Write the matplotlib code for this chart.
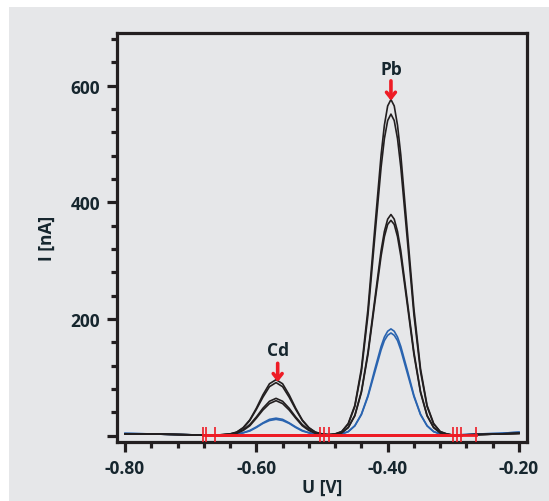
import matplotlib.pyplot as plt
from matplotlib.patches import Rectangle
from matplotlib.ticker import MultipleLocator

# potential grid [V] and currents [nA]
u = [-0.80, -0.76, -0.72, -0.68, -0.66, -0.64, -0.63, -0.62, -0.61, -0.60,
     -0.59, -0.58, -0.57, -0.56, -0.55, -0.54, -0.53, -0.52, -0.51, -0.50,
     -0.49, -0.48, -0.47, -0.46, -0.45, -0.44, -0.43, -0.42, -0.41, -0.405,
     -0.40, -0.395, -0.39, -0.385, -0.38, -0.37, -0.36, -0.35, -0.34, -0.33,
     -0.32, -0.31, -0.30, -0.26, -0.23, -0.20]

black_1 = [3, 3, 2, 1, 1, 3, 6, 14, 27, 47, 70, 89, 96, 89, 70, 47, 27, 14, 6, 3,
           2, 3, 7, 21, 52, 115, 217, 350, 481, 532, 565, 576, 565, 532, 481, 350,
           217, 115, 52, 21, 7, 3, 1, 2, 3, 4]
black_2 = [3, 3, 2, 1, 1, 3, 6, 13, 26, 45, 66, 84, 91, 84, 66, 45, 26, 13, 6, 3,
           2, 3, 7, 20, 50, 110, 207, 335, 460, 509, 540, 551, 540, 509, 460, 335,
           207, 110, 50, 20, 7, 3, 1, 2, 3, 4]
black_3 = [3, 3, 2, 1, 1, 2, 5, 10, 19, 32, 47, 59, 64, 59, 47, 32, 19, 10, 5, 2,
           1, 2, 5, 14, 35, 76, 143, 230, 317, 350, 371, 379, 371, 350, 317, 230,
           143, 76, 35, 14, 5, 2, 1, 2, 3, 4]
black_4 = [3, 3, 2, 1, 1, 2, 4, 9, 17, 30, 44, 55, 60, 55, 44, 30, 17, 9, 4, 2,
           1, 2, 5, 14, 34, 74, 139, 224, 308, 341, 362, 369, 362, 341, 308, 224,
           139, 74, 34, 14, 5, 2, 1, 2, 3, 4]
blue_1 = [4, 3, 2, 1, 1, 2, 3, 5, 9, 15, 22, 28, 30, 28, 22, 15, 9, 5, 3, 2,
          1, 2, 3, 7, 17, 37, 69, 112, 153, 169, 179, 183, 179, 169, 153, 112,
          69, 37, 17, 7, 3, 2, 1, 3, 4, 6]
blue_2 = [4, 3, 2, 1, 1, 2, 2, 5, 8, 14, 21, 26, 28, 26, 21, 14, 8, 5, 2, 2,
          1, 2, 3, 7, 17, 36, 67, 107, 147, 163, 172, 176, 172, 163, 147, 107,
          67, 36, 17, 7, 3, 2, 1, 3, 4, 6]

# red integration baselines (start, end) and their boundary markers
base_start = [-0.681, -0.677, -0.663, -0.503, -0.497, -0.490, -0.490]
base_end = [-0.497, -0.503, -0.490, -0.300, -0.289, -0.295, -0.266]
base_level = [1, 2, 1, 1, 2, 1, 1]
markers = [-0.681, -0.677, -0.663, -0.503, -0.497, -0.490,
           -0.300, -0.295, -0.289, -0.266]

peak_names = ['Cd', 'Pb']
peak_u = [-0.5675, -0.395]
peak_tip = [92, 574]
peak_tail = [124, 608]
peak_text = [146, 628]

gray = '#e6e7e9'
ink = '#231f20'
text_col = '#16262e'
red = '#ee1c25'
blue = '#2a64b0'

fig = plt.figure(figsize=(5.49, 5.02), dpi=100, facecolor='white')
fig.patches.append(Rectangle((9 / 549, 0), 1, 1 - 8 / 502, transform=fig.transFigure,
                             facecolor=gray, edgecolor='none', zorder=-5))
ax = fig.add_axes([117 / 549, 1 - 443 / 502, 410 / 549, 409 / 502])
ax.set_facecolor(gray)

for ys in [black_1, black_2, black_3, black_4]:
    ax.plot(u, ys, color=ink, lw=1.2, zorder=3)
for ys in [blue_1, blue_2]:
    ax.plot(u, ys, color=blue, lw=1.2, zorder=2)

for s, e, lv in zip(base_start, base_end, base_level):
    ax.plot([s, e], [lv, lv], color=red, lw=2.0, zorder=4)
ax.vlines(markers, -10, 15, color=red, lw=1.2, zorder=4)

for name, x, tip, tail, ty in zip(peak_names, peak_u, peak_tip, peak_tail, peak_text):
    ax.annotate('', xy=(x, tip), xytext=(x, tail),
                arrowprops=dict(arrowstyle='->,head_length=0.4,head_width=0.32',
                                color=red, lw=2.6, shrinkA=0, shrinkB=0), zorder=5)
    ax.text(x, ty, name, ha='center', va='center', fontsize=12.5, fontweight='bold',
            family='Open Sans', color=text_col)

ax.set_xlim(-0.8122, -0.1878)
ax.set_ylim(-10.8, 690)
ax.set_xticks([-0.8, -0.6, -0.4, -0.2])
ax.set_xticklabels(['-0.80', '-0.60', '-0.40', '-0.20'])
ax.set_yticks([0, 200, 400, 600])
ax.set_yticklabels(['', '200', '400', '600'])
ax.xaxis.set_minor_locator(MultipleLocator(0.04))
ax.yaxis.set_minor_locator(MultipleLocator(40))

for sp in ax.spines.values():
    sp.set_color(ink)
    sp.set_linewidth(2.3)
ax.tick_params(which='major', direction='out', length=7, width=2.3, color=ink,
               labelsize=12.5, labelcolor=text_col, pad=5)
ax.tick_params(which='minor', direction='out', length=4, width=2.3, color=ink)
for lab in ax.get_xticklabels() + ax.get_yticklabels():
    lab.set_family('Open Sans')
    lab.set_fontweight('bold')

ax.set_xlabel('U [V]', fontsize=12.5, fontweight='bold', family='Open Sans',
              color=text_col, labelpad=1)
ax.set_ylabel('I [nA]', fontsize=12.5, fontweight='bold', family='Open Sans',
              color=text_col, labelpad=11)

fig.savefig('out.png', dpi=100, facecolor='white')
